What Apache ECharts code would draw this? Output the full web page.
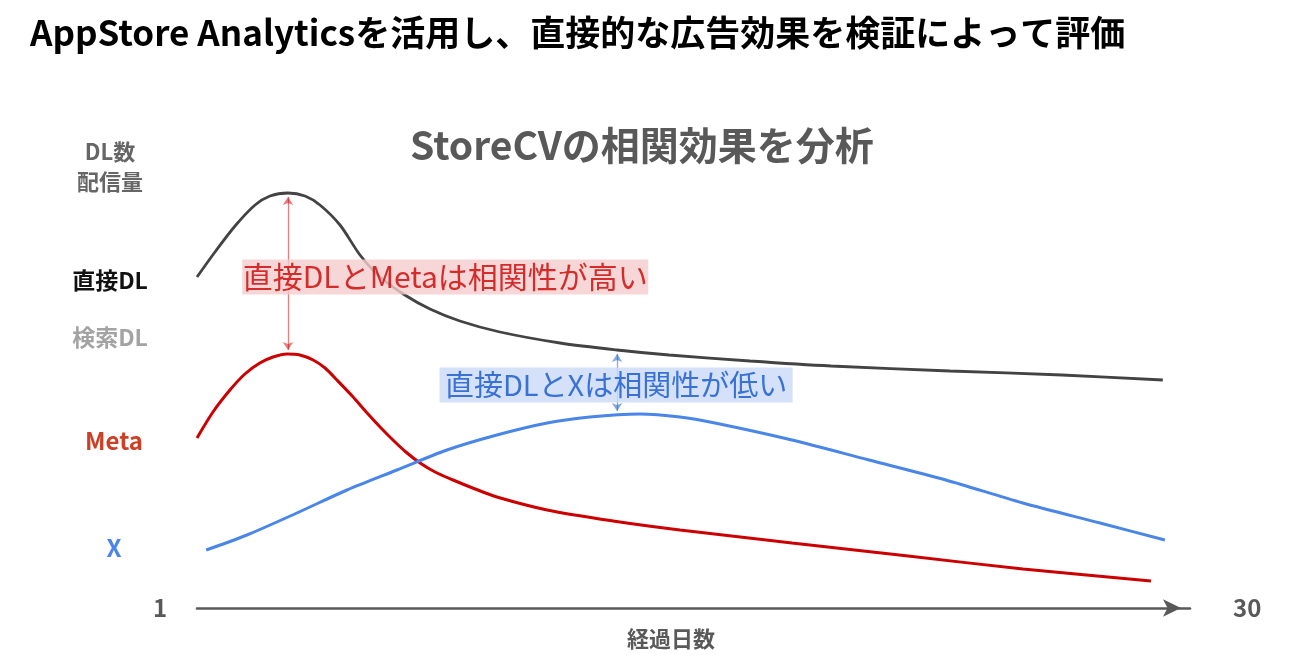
<!DOCTYPE html>
<html>
<head>
<meta charset="utf-8">
<script src="https://cdn.jsdelivr.net/npm/echarts@6/dist/echarts.min.js"></script>
<style>html,body{margin:0;padding:0;background:#fff}#c{width:1300px;height:660px}</style>
</head>
<body>
<div id="c"></div>
<script>
const FONT = '"Noto Sans CJK JP", "Noto Sans", sans-serif';

const mainTitle = 'AppStore Analyticsを活用し、直接的な広告効果を検証によって評価';
const subTitle = 'StoreCVの相関効果を分析';
const xAxisTitle = '経過日数';
const xEndLabel = '30';

// y-axis row labels (value position, text, style key)
const yLabelValues = [0, 12, 33.4, 54.2, 65.6, 88.2];
const yLabelTexts = ['1', 'X', 'Meta', '検索DL', '直接DL', 'DL数\n配信量'];
const yLabelKeys = ['one', 'x', 'meta', 'search', 'direct', 'dl'];

// series: 直接DL (black)
const directX = [0.76, 1.29, 1.88, 2.47, 2.91, 3.44, 3.94, 4.38, 4.97, 5.56, 6.15, 6.88, 7.62, 8.50, 9.68, 11.45, 13.13, 14.66, 17.04, 19.43, 22.93, 26.23, 29.20];
const directY = [66.2, 71.2, 76.4, 80.6, 82.4, 83.0, 82.4, 80.6, 76.6, 70.6, 66.2, 62.6, 59.8, 57.4, 55.2, 53.0, 51.6, 50.6, 49.4, 48.4, 47.4, 46.6, 45.6];
// series: Meta (red)
const metaX = [0.76, 1.23, 1.73, 2.17, 2.61, 3.00, 3.41, 3.79, 4.18, 4.53, 4.88, 5.33, 5.77, 6.15, 6.53, 6.91, 7.33, 7.77, 8.30, 8.95, 9.59, 11.07, 13.01, 14.98, 18.28, 21.70, 25.08, 28.85];
const metaY = [34.0, 39.2, 43.6, 46.8, 49.0, 50.2, 50.8, 50.6, 49.6, 48.0, 45.6, 42.4, 39.0, 36.2, 33.6, 31.2, 29.0, 27.2, 25.6, 23.8, 22.2, 19.6, 17.4, 15.6, 13.0, 10.4, 7.8, 5.4];
// series: X (blue)
const xX = [1.03, 2.23, 3.70, 5.18, 6.65, 8.12, 9.59, 11.07, 12.33, 13.80, 14.98, 16.01, 18.28, 20.55, 22.81, 25.08, 27.35, 29.26];
const xY = [11.6, 14.6, 19.0, 23.6, 27.6, 31.6, 34.6, 37.0, 38.2, 38.8, 38.2, 37.0, 33.6, 29.6, 25.6, 21.0, 17.0, 13.6];

// annotations
const highArrow = [[3.44, 82.2], [3.44, 51.6]];
const lowArrow = [[13.13, 50.8], [13.13, 39.4]];
const highLabelPos = [8.07, 66.2];
const lowLabelPos = [13.1, 44.6];
const highLabelText = '直接DLとMetaは相関性が高い';
const lowLabelText = '直接DLとXは相関性が低い';

function zip(a, b) { return a.map((v, i) => [v, b[i]]); }

const chart = echarts.init(document.getElementById('c'), null, { renderer: 'canvas' });
chart.setOption({
  animation: false,
  backgroundColor: '#ffffff',
  textStyle: { fontFamily: FONT },
  title: [
    { text: mainTitle, left: 30, top: 15, padding: 0,
      textStyle: { fontSize: 35, fontWeight: 'bold', color: '#000', fontFamily: FONT } },
    { text: subTitle, left: 410, top: 126, padding: 0,
      textStyle: { fontSize: 39, fontWeight: 'bold', color: '#595959', fontFamily: FONT } },
    { text: xAxisTitle, left: 627, top: 628, padding: 0,
      textStyle: { fontSize: 22, fontWeight: 'bold', color: '#595959', fontFamily: FONT } }
  ],
  grid: { left: 197, right: 110, top: 108, bottom: 52, containLabel: false },
  xAxis: {
    type: 'value', min: 0.76, max: 30,
    name: xEndLabel, nameLocation: 'end', nameGap: 43,
    nameTextStyle: { fontSize: 24, fontWeight: 'bold', color: '#595959', fontFamily: FONT, padding: [8, 0, 0, 0] },
    axisLine: { show: true, symbol: ['none', 'arrow'], symbolSize: [13, 18], symbolOffset: [0, -9],
      lineStyle: { color: '#595959', width: 2.5 } },
    axisTick: { show: false }, axisLabel: { show: false }, splitLine: { show: false }
  },
  yAxis: {
    type: 'value', min: 0, max: 100,
    axisLine: { show: false }, axisTick: { show: false }, splitLine: { show: false },
    axisLabel: {
      show: true, customValues: yLabelValues, align: 'center', margin: 87,
      formatter: function (v) {
        let idx = -1;
        yLabelValues.forEach((y, i) => { if (Math.abs(y - v) < 1e-6) idx = i; });
        if (idx < 0) return '';
        return yLabelTexts[idx].split('\n').map(t => '{' + yLabelKeys[idx] + '|' + t + '}').join('\n');
      },
      rich: {
        dl: { fontSize: 22, fontWeight: 'bold', color: '#666666', lineHeight: 30, fontFamily: FONT },
        direct: { fontSize: 23, fontWeight: 'bold', color: '#111111', fontFamily: FONT },
        search: { fontSize: 23, fontWeight: 'bold', color: '#a3a3a3', fontFamily: FONT },
        meta: { fontSize: 24, fontWeight: 'bold', color: '#cc4125', fontFamily: FONT, padding: [0, 0, 0, 8] },
        x: { fontSize: 24, fontWeight: 'bold', color: '#4a86e8', fontFamily: FONT, padding: [0, 0, 0, 8] },
        one: { fontSize: 24, fontWeight: 'bold', color: '#595959', fontFamily: FONT, padding: [0, 0, 0, 100] }
      }
    }
  },
  series: [
    { name: '直接DL', type: 'line', data: zip(directX, directY), smooth: 0.3, showSymbol: false, z: 3,
      lineStyle: { color: '#434343', width: 2.8 } },
    { name: 'Meta', type: 'line', data: zip(metaX, metaY), smooth: 0.3, showSymbol: false, z: 3,
      lineStyle: { color: '#cc0000', width: 3 } },
    { name: 'X', type: 'line', data: zip(xX, xY), smooth: 0.3, showSymbol: false, z: 3,
      lineStyle: { color: '#4a86e8', width: 3 } },
    { type: 'lines', coordinateSystem: 'cartesian2d', z: 4,
      symbol: ['arrow', 'arrow'], symbolSize: 8,
      data: [
        { coords: highArrow, lineStyle: { color: '#cc0000', width: 1.3 } },
        { coords: lowArrow, lineStyle: { color: '#1155cc', width: 1.3 } }
      ] },
    { type: 'scatter', z: 6, symbolSize: 1, itemStyle: { color: 'rgba(0,0,0,0)' }, silent: true,
      data: [
        { value: highLabelPos, label: { show: true, position: 'inside', formatter: highLabelText,
          color: '#cc0000', backgroundColor: '#f4cccc', fontSize: 30, fontFamily: FONT,
          width: 400, height: 35, lineHeight: 35, align: 'center', verticalAlign: 'middle', padding: [0, 3] } },
        { value: lowLabelPos, label: { show: true, position: 'inside', formatter: lowLabelText,
          color: '#1155cc', backgroundColor: '#c9daf8', fontSize: 29, fontFamily: FONT,
          width: 347, height: 35, lineHeight: 35, align: 'center', verticalAlign: 'middle', padding: [0, 3] } }
      ] }
  ]
});
</script>
</body>
</html>
